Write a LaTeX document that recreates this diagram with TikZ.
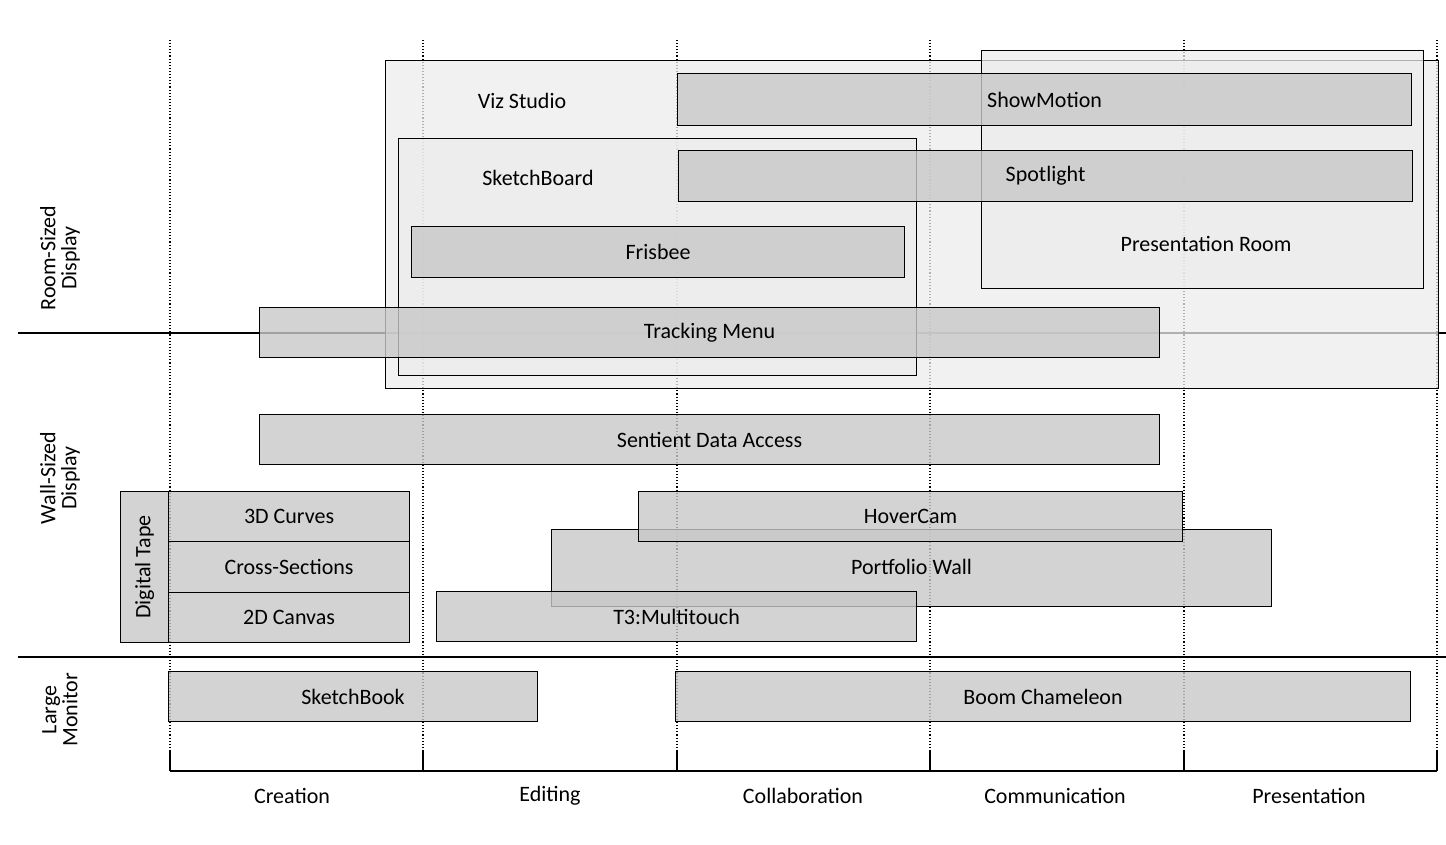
\documentclass[tikz,border=0pt]{standalone}
\usepackage{fontspec}
\setmainfont{Carlito}
\usetikzlibrary{calc}
\definecolor{bg1}{RGB}{236,236,236}
\definecolor{bar1}{RGB}{200,200,200}

\begin{document}
\begin{tikzpicture}[
    x=1pt, y=-1pt,
    font=\fontsize{22}{24}\selectfont,
    grp/.style={
        draw=black, line width=1.1pt, fill=bg1, fill opacity=0.75,
        text opacity=1, inner sep=0pt, anchor=north west
    },
    b/.style={
        draw=black, line width=1.1pt, fill=bar1, fill opacity=0.8,
        text opacity=1, inner sep=0pt, anchor=north west
    },
    dl/.style={dotted, line width=1.1pt},
    ax/.style={line width=1.2pt}
]
    \useasboundingbox (0,0) rectangle (1446,845);

    % dotted phase separators
    \foreach \x/\n in {170/a,423/b,677/c,930/d,1184/e,1437/f} {
        \coordinate (t\n) at (\x,40);
        \coordinate (m\n) at (\x,750);
        \coordinate (s\n) at (\x,771);
        \draw [dl] (t\n) -- (m\n);
        \draw [ax] (m\n) -- (s\n);
    }
    \draw [ax] (sa) -- (sf);

    % display rows
    \coordinate (r1l) at (18,333);  \coordinate (r1r) at (1446,333);
    \coordinate (r2l) at (18,657);  \coordinate (r2r) at (1446,657);
    \draw [ax] (r1l) -- (r1r);
    \draw [ax] (r2l) -- (r2r);

    \node [rotate=90, align=center, font=\fontsize{22}{21}\selectfont] (room) at (60,258) {Room-Sized\\Display};
    \node [rotate=90, align=center, font=\fontsize{22}{21}\selectfont] (wall) at (60,478) {Wall-Sized\\Display};
    \node [rotate=90, align=center, font=\fontsize{22}{21}\selectfont] (mon) at (60,710) {Large\\Monitor};

    % phases
    \node (cre) at (292,796) {Creation};
    \node (edi) at (550,796) {Editing};
    \node (col) at (803,796) {Collaboration};
    \node (com) at (1055,796) {Communication};
    \node (pre) at (1309,796) {Presentation};

    % groups
    \node [grp, minimum width=1053, minimum height=328] (viz) at (385,60) {};
    \node [grp, minimum width=442, minimum height=238] (proom) at (981,50) {};
    \node [grp, minimum width=518, minimum height=237] (sboard) at (398,138) {};
    \node (vizl) at (522,101) {Viz Studio};
    \node (proml) at (1206,244) {Presentation Room};
    \node (sbl) at (538,178) {SketchBoard};

    % projects
    \node [b, minimum width=734, minimum height=52] (show) at (677,73) {};
    \node at (show.center) {ShowMotion};
    \node [b, minimum width=734, minimum height=51] (spot) at (678,150) {};
    \node at (spot.center) {Spotlight};
    \node [b, minimum width=493, minimum height=51] (fris) at (411,226) {};
    \node at (fris.center) {Frisbee};
    \node [b, minimum width=900, minimum height=50] (track) at (259,307) {};
    \node at (track.center) {Tracking Menu};
    \node [b, minimum width=900, minimum height=50] (sda) at (259,414) {};
    \node at (sda.center) {Sentient Data Access};
    \node [b, minimum width=48, minimum height=151] (tape) at (120,491) {};
    \node [rotate=90] at (tape.center) {Digital Tape};
    \node [b, minimum width=241, minimum height=50] (curv) at (168,491) {};
    \node at (curv.center) {3D Curves};
    \node [b, minimum width=241, minimum height=51] (cross) at (168,541) {};
    \node at (cross.center) {Cross-Sections};
    \node [b, minimum width=241, minimum height=50] (canv) at (168,592) {};
    \node at (canv.center) {2D Canvas};
    \node [b, minimum width=720, minimum height=77] (port) at (551,529) {};
    \node at ($(port.center)+(0,-1)$) {Portfolio Wall};
    \node [b, minimum width=544, minimum height=50] (hover) at (638,491) {};
    \node at (hover.center) {HoverCam};
    \node [b, minimum width=480, minimum height=50] (tthree) at (436,591) {};
    \node at (tthree.center) {T3:Multitouch};
    \node [b, minimum width=369, minimum height=50] (sbook) at (168,671) {};
    \node at (sbook.center) {SketchBook};
    \node [b, minimum width=735, minimum height=50] (boom) at (675,671) {};
    \node at (boom.center) {Boom Chameleon};
\end{tikzpicture}
\end{document}
